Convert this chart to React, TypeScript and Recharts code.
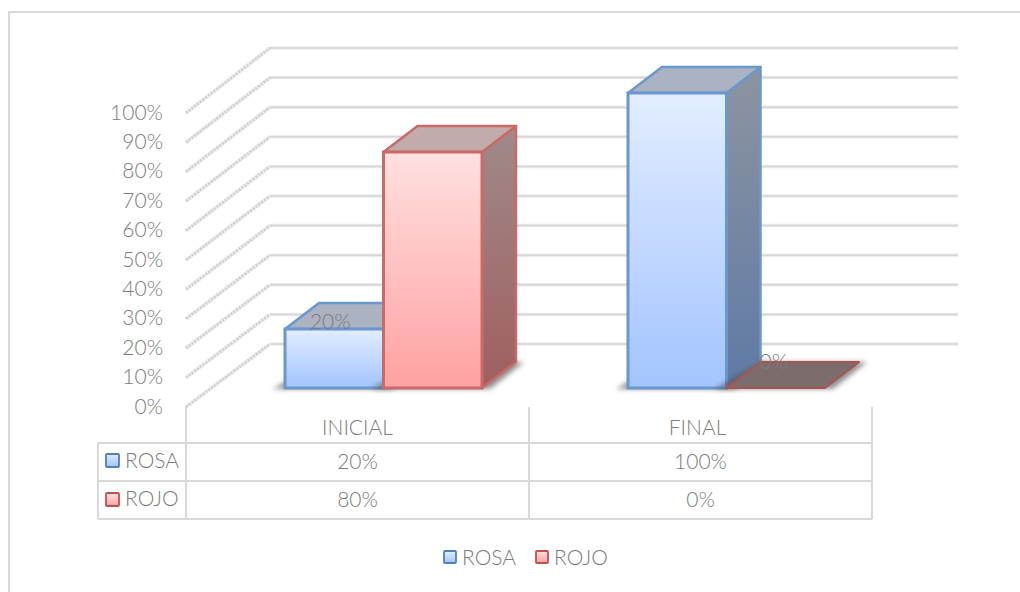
import React from "react";
import { BarChart, Bar, XAxis, YAxis, CartesianGrid, Legend, LabelList } from "recharts";

const categories = ["INICIAL", "FINAL"];
const rosa = [0.2, 1];
const rojo = [0.8, 0];
const yTicks = [0, 0.1, 0.2, 0.3, 0.4, 0.5, 0.6, 0.7, 0.8, 0.9, 1];
const seriesNames = ["ROSA", "ROJO"];

const tableData = categories.map((c, i) => ({ category: c, ROSA: rosa[i], ROJO: rojo[i] }));

const FONT = "Lato, 'Open Sans', sans-serif";
const TXT = "#7c7c7c";
const LINE = "#d9d9d9";
const FS = 21;
const FW = 300;
const pct = (v: number) => `${Math.round(v * 100)}%`;

const COLORS: Record<string, any> = {
  ROSA: { stroke: "#6b97cf", front: "url(#fRosa)", top: "#abb2c1", side: "url(#sRosa)", swatch: "url(#fRosa)", swStroke: "#4f81bd" },
  ROJO: { stroke: "#c96a68", front: "url(#fRojo)", top: "#c2abab", side: "url(#sRojo)", swatch: "url(#fRojo)", swStroke: "#c0504d" },
};

const DX = 34;
const DY = -26;
const SHIFT = 26;

function Bar3D(props: any) {
  const { x, y, width, height, name } = props;
  const c = COLORS[name];
  const X = x + SHIFT;
  const R = X + width;
  const B = y + height;
  const isFlat = height < 1;
  return (
    <g>
      <polygon
        points={`${X - 12},${B + 1} ${R + 8},${B + 1} ${R + 8 + DX},${B + DY} ${X + DX},${B + DY}`}
        fill="#555"
        opacity={0.65}
        filter="url(#soft)"
      />
      {isFlat ? (
        <polygon
          points={`${X},${B} ${R},${B} ${R + DX},${B + DY} ${X + DX},${B + DY}`}
          fill="#7c6c6c"
          stroke="#a85352"
          strokeWidth={2}
          strokeLinejoin="round"
        />
      ) : (
        <>
          <polygon
            points={`${R},${y} ${R + DX},${y + DY} ${R + DX},${B + DY} ${R},${B}`}
            fill={c.side}
            stroke={c.stroke}
            strokeWidth={2.5}
            strokeLinejoin="round"
          />
          <polygon
            points={`${X},${y} ${X + DX},${y + DY} ${R + DX},${y + DY} ${R},${y}`}
            fill={c.top}
            stroke={c.stroke}
            strokeWidth={2.5}
            strokeLinejoin="round"
          />
          <rect x={X} y={y} width={width} height={height} fill={c.front} stroke={c.stroke} strokeWidth={3} />
        </>
      )}
    </g>
  );
}

function PointLabel(props: any) {
  const { x, y, width, index, only, dy, dx } = props;
  if (index !== only) return null;
  const v = props.value;
  return (
    <text x={x + SHIFT + width / 2 + dx} y={y + dy} textAnchor="middle" dominantBaseline="central" fontFamily={FONT} fontWeight={FW} fontSize={FS} fill={TXT}>
      {pct(v)}
    </text>
  );
}

function GridShape(props: any) {
  const y = props.y1;
  if (y < 45 || y > 350) return <g />;
  const startY = y + 63 + (2 * (344 - y)) / 296;
  return (
    <g>
      <line x1={270} x2={958} y1={y} y2={y} stroke="#ebebeb" strokeWidth={3.5} />
      <line x1={270} x2={958} y1={y} y2={y} stroke="#d6d6d6" strokeWidth={1.5} />
      <line x1={186} y1={startY} x2={270} y2={y} stroke="#ececec" strokeWidth={4} />
      <line x1={186} y1={startY} x2={270} y2={y} stroke="#cfcfcf" strokeWidth={2.5} strokeDasharray="2 1.5" />
    </g>
  );
}

function YTick(props: any) {
  const { y, payload } = props;
  return (
    <text x={163} y={y - 2} textAnchor="end" dominantBaseline="central" fontFamily={FONT} fontWeight={FW} fontSize={FS} fill={TXT}>
      {pct(payload.value)}
    </text>
  );
}

function XTick(props: any) {
  const { x, payload, index } = props;
  const top = 407;
  const rows = [443, 481, 519];
  const half = 343 / 2;
  const textProps = { textAnchor: "middle" as const, dominantBaseline: "central" as const, fontFamily: FONT, fontWeight: FW, fontSize: FS, fill: TXT };
  const swatch = (sx: number, sy: number, name: string) => (
    <rect x={sx} y={sy} width={13} height={13} fill={COLORS[name].swatch} stroke={COLORS[name].swStroke} strokeWidth={1.8} rx={1} />
  );
  return (
    <g>
      <line x1={x + half} x2={x + half} y1={top} y2={rows[2]} stroke={LINE} strokeWidth={2} />
      {index === 0 && (
        <g>
          <line x1={x - half} x2={x - half} y1={top} y2={rows[2]} stroke={LINE} strokeWidth={2} />
          <line x1={98} x2={98} y1={rows[0]} y2={rows[2]} stroke={LINE} strokeWidth={2} />
          {rows.map((r) => (
            <line key={r} x1={98} x2={872} y1={r} y2={r} stroke={LINE} strokeWidth={2} />
          ))}
          {swatch(106, 454, seriesNames[0])}
          <text {...textProps} textAnchor="start" x={125} y={459}>{seriesNames[0]}</text>
          {swatch(106, 493, seriesNames[1])}
          <text {...textProps} textAnchor="start" x={125} y={497}>{seriesNames[1]}</text>
        </g>
      )}
      <text {...textProps} x={index === 1 ? x - 3 : x} y={426}>{payload.value}</text>
      <text {...textProps} x={x} y={460}>{pct(rosa[index])}</text>
      <text {...textProps} x={x} y={498}>{pct(rojo[index])}</text>
    </g>
  );
}

function LegendContent(props: any) {
  const items = [...(props.payload || [])].sort(
    (a: any, b: any) => seriesNames.indexOf(a.value) - seriesNames.indexOf(b.value)
  );
  return (
    <div style={{ display: "flex", alignItems: "center", fontFamily: FONT, fontWeight: FW, fontSize: FS, color: TXT, lineHeight: "24px" }}>
      {items.map((it: any, i: number) => (
        <div key={it.value} style={{ display: "flex", alignItems: "center", marginLeft: i ? 19 : 0 }}>
          <svg width={14} height={14} style={{ marginRight: 5 }}>
            <rect x={1} y={1} width={12} height={12} rx={1} fill={COLORS[it.value].swatch} stroke={COLORS[it.value].swStroke} strokeWidth={1.8} />
          </svg>
          {it.value}
        </div>
      ))}
    </div>
  );
}

export default function App() {
  return (
    <div style={{ position: "absolute", left: 0, top: 0, width: 1020, height: 592, background: "#fff" }}>
      <div style={{ position: "absolute", left: 8, top: 11, right: -4, bottom: -4, border: `2px solid ${LINE}`, boxSizing: "border-box" }} />
      <BarChart
        width={1020}
        height={592}
        data={tableData}
        margin={{ top: 40, right: 148, bottom: 73, left: 86 }}
        barGap={0}
        barSize={98.5}
        style={{ position: "absolute", left: 0, top: 0 }}
      >
        <defs>
          <linearGradient id="fRosa" x1="0" y1="0" x2="0" y2="1">
            <stop offset="0" stopColor="#e2edff" />
            <stop offset="1" stopColor="#a3c4ff" />
          </linearGradient>
          <linearGradient id="fRojo" x1="0" y1="0" x2="0" y2="1">
            <stop offset="0" stopColor="#ffe0e0" />
            <stop offset="1" stopColor="#ffa1a1" />
          </linearGradient>
          <linearGradient id="sRosa" x1="0" y1="0" x2="0" y2="1">
            <stop offset="0" stopColor="#8d949f" />
            <stop offset="1" stopColor="#5f7aa6" />
          </linearGradient>
          <linearGradient id="sRojo" x1="0" y1="0" x2="0" y2="1">
            <stop offset="0" stopColor="#a08a8a" />
            <stop offset="1" stopColor="#a05f5f" />
          </linearGradient>
          <filter id="soft" x="-20%" y="-50%" width="140%" height="200%">
            <feGaussianBlur stdDeviation="2.5" />
          </filter>
        </defs>
        <CartesianGrid yAxisId="grid" vertical={false} horizontal={<GridShape />} />
        <XAxis dataKey="category" height={112} tickLine={false} axisLine={false} tickSize={0} tickMargin={0} tick={<XTick />} interval={0} />
        <YAxis yAxisId="grid" hide type="number" domain={[-0.2128, 1.027]} ticks={yTicks} allowDataOverflow />
        <YAxis yAxisId="label" width={100} type="number" domain={[0, 1.2483]} ticks={yTicks} allowDataOverflow axisLine={false} tickLine={false} tick={<YTick />} interval={0} />
        <YAxis yAxisId="bars" hide type="number" domain={[-0.0644, 1.1797]} allowDataOverflow />
        <Bar yAxisId="bars" dataKey="ROSA" name="ROSA" isAnimationActive={false} shape={<Bar3D name="ROSA" />}>
          <LabelList dataKey="ROSA" content={<PointLabel only={0} dy={-9} dx={-4} />} />
        </Bar>
        <Bar yAxisId="bars" dataKey="ROJO" name="ROJO" isAnimationActive={false} shape={<Bar3D name="ROJO" />}>
          <LabelList dataKey="ROJO" content={<PointLabel only={1} dy={-28} dx={-2} />} />
        </Bar>
        <Legend
          layout="horizontal"
          align="center"
          verticalAlign="middle"
          content={<LegendContent />}
          wrapperStyle={{ position: "absolute", left: 443, top: 545, width: "auto" }}
        />
      </BarChart>
    </div>
  );
}
